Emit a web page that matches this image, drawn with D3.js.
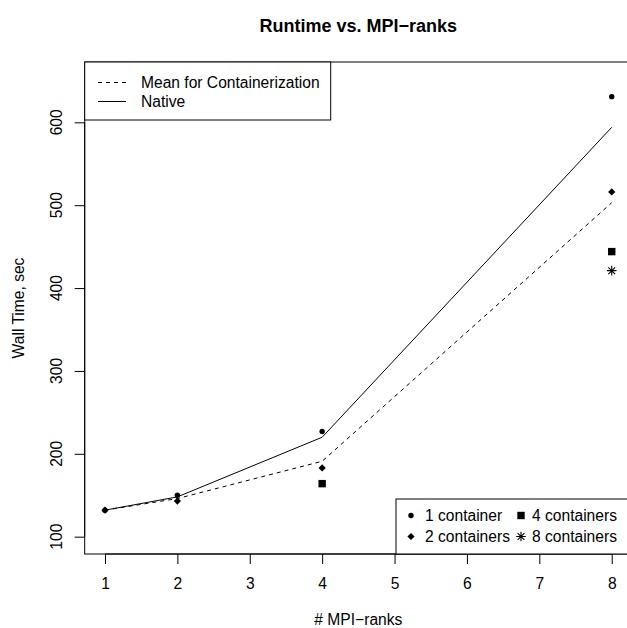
<!DOCTYPE html>
<html>
<head>
<meta charset="utf-8">
<script src="https://cdn.jsdelivr.net/npm/d3@7"></script>
<style>
  body { margin: 0; background: #fff; }
  text { font-family: "Liberation Sans", Arial, sans-serif; }
</style>
</head>
<body>
<script>
// ranks on the x axis
var ranks = [1, 2, 4, 8];
// lines
var nativeTime = [132, 148, 220, 594];
var meanTime = [132, 146, 191, 503];
// points per container count
var oneContainer = [132, 150, 227, 631];
var twoContainers = [132, 143, 183, 516];
var fourRanks = [4, 8], fourContainers = [164, 444];
var eightRanks = [8], eightContainers = [421];

var xTicks = [1, 2, 3, 4, 5, 6, 7, 8];
var yTicks = [100, 200, 300, 400, 500, 600];

var width = 627, height = 628;
var box = {left: 84.7, right: 632, top: 62, bottom: 554};
var fs = "15.6px";

var svg = d3.select("body").append("svg")
    .attr("width", width)
    .attr("height", height)
    .style("display", "block");

var xScale = d3.scaleLinear().domain([0.72, 8.28]).range([box.left, box.right]);
var yScale = d3.scaleLinear().domain([79.1, 672.8]).range([box.bottom, box.top]);

// title + axis titles
svg.append("text")
    .attr("x", (box.left + box.right) / 2).attr("y", 32)
    .attr("text-anchor", "middle")
    .style("font-size", "18px").style("font-weight", "bold")
    .text("Runtime vs. MPI\u2212ranks");

svg.append("text")
    .attr("x", (box.left + box.right) / 2).attr("y", 625)
    .attr("text-anchor", "middle")
    .style("font-size", fs)
    .text("# MPI\u2212ranks");

svg.append("text")
    .attr("transform", "translate(24," + ((box.top + box.bottom) / 2) + ") rotate(-90)")
    .attr("text-anchor", "middle")
    .style("font-size", fs)
    .text("Wall Time, sec");

// x axis
var xAxis = svg.append("g")
    .attr("transform", "translate(0," + box.bottom + ")")
    .call(d3.axisBottom(xScale).tickValues(xTicks).tickSize(10).tickPadding(14).tickFormat(d3.format("d")));
xAxis.select(".domain").attr("d", "M" + xScale(1) + ",0H" + xScale(8));
xAxis.selectAll("text").style("font-size", fs).style("font-family", "Liberation Sans, Arial, sans-serif");

// y axis
var yAxis = svg.append("g")
    .attr("transform", "translate(" + box.left + ",0)")
    .call(d3.axisLeft(yScale).tickValues(yTicks).tickSize(10).tickFormat(""));
yAxis.select(".domain").attr("d", "M0," + yScale(100) + "V" + yScale(600));
svg.append("g").selectAll("text")
    .data(yTicks)
    .join("text")
    .attr("transform", d => "translate(62," + yScale(d) + ") rotate(-90)")
    .attr("text-anchor", "middle")
    .style("font-size", fs)
    .text(d => d);

// plot box
svg.append("rect")
    .attr("x", box.left).attr("y", box.top)
    .attr("width", box.right - box.left).attr("height", box.bottom - box.top)
    .attr("fill", "none").attr("stroke", "black").attr("stroke-width", 1);

var line = d3.line().x(d => xScale(d[0])).y(d => yScale(d[1]));

svg.append("path")
    .attr("d", line(d3.zip(ranks, nativeTime)))
    .attr("fill", "none").attr("stroke", "black").attr("stroke-width", 1);

svg.append("path")
    .attr("d", line(d3.zip(ranks, meanTime)))
    .attr("fill", "none").attr("stroke", "black").attr("stroke-width", 1)
    .attr("stroke-dasharray", "4,4");

// point symbols
function drawSymbol(g, type, cx, cy) {
  if (type == "circle") {
    g.append("circle").attr("cx", cx).attr("cy", cy).attr("r", 2.7).attr("fill", "black");
  } else if (type == "diamond") {
    var h = 3.6;
    g.append("path").attr("d", "M" + cx + "," + (cy - h) + "L" + (cx + h) + "," + cy + "L" + cx + "," + (cy + h) + "L" + (cx - h) + "," + cy + "Z")
      .attr("fill", "black");
  } else if (type == "square") {
    g.append("rect").attr("x", cx - 3.7).attr("y", cy - 3.7).attr("width", 7.4).attr("height", 7.4).attr("fill", "black");
  } else {
    var r = 4.8, s = r * Math.SQRT1_2;
    g.append("path")
      .attr("d", "M" + (cx - r) + "," + cy + "h" + 2 * r + "M" + cx + "," + (cy - r) + "v" + 2 * r +
                 "M" + (cx - s) + "," + (cy - s) + "l" + 2 * s + "," + 2 * s +
                 "M" + (cx - s) + "," + (cy + s) + "l" + 2 * s + "," + (-2 * s))
      .attr("stroke", "black").attr("stroke-width", 1.1);
  }
}

var pts = svg.append("g");
ranks.forEach((r, i) => drawSymbol(pts, "diamond", xScale(r), yScale(twoContainers[i])));
ranks.forEach((r, i) => drawSymbol(pts, "circle", xScale(r), yScale(oneContainer[i])));
fourRanks.forEach((r, i) => drawSymbol(pts, "square", xScale(r), yScale(fourContainers[i])));
eightRanks.forEach((r, i) => drawSymbol(pts, "star", xScale(r), yScale(eightContainers[i])));

// legend top-left
var lg1 = svg.append("g");
lg1.append("rect").attr("x", box.left).attr("y", box.top).attr("width", 246).attr("height", 58)
    .attr("fill", "white").attr("stroke", "black");
lg1.append("line").attr("x1", 98).attr("x2", 126).attr("y1", 82.5).attr("y2", 82.5)
    .attr("stroke", "black").attr("stroke-dasharray", "4,4");
lg1.append("line").attr("x1", 98).attr("x2", 126).attr("y1", 101.5).attr("y2", 101.5)
    .attr("stroke", "black");
lg1.append("text").attr("x", 141).attr("y", 88).style("font-size", fs).text("Mean for Containerization");
lg1.append("text").attr("x", 141).attr("y", 107).style("font-size", fs).text("Native");

// legend bottom-right
var lg2 = svg.append("g");
lg2.append("rect").attr("x", 396).attr("y", 499).attr("width", box.right - 396).attr("height", box.bottom - 499)
    .attr("fill", "white").attr("stroke", "black");
drawSymbol(lg2, "circle", 411, 515.5);
drawSymbol(lg2, "diamond", 411, 536.5);
drawSymbol(lg2, "square", 521, 515.5);
drawSymbol(lg2, "star", 521, 536.5);
lg2.append("text").attr("x", 425).attr("y", 521).style("font-size", fs).text("1 container");
lg2.append("text").attr("x", 425).attr("y", 542).style("font-size", fs).text("2 containers");
lg2.append("text").attr("x", 532).attr("y", 521).style("font-size", fs).text("4 containers");
lg2.append("text").attr("x", 532).attr("y", 542).style("font-size", fs).text("8 containers");
</script>
</body>
</html>
